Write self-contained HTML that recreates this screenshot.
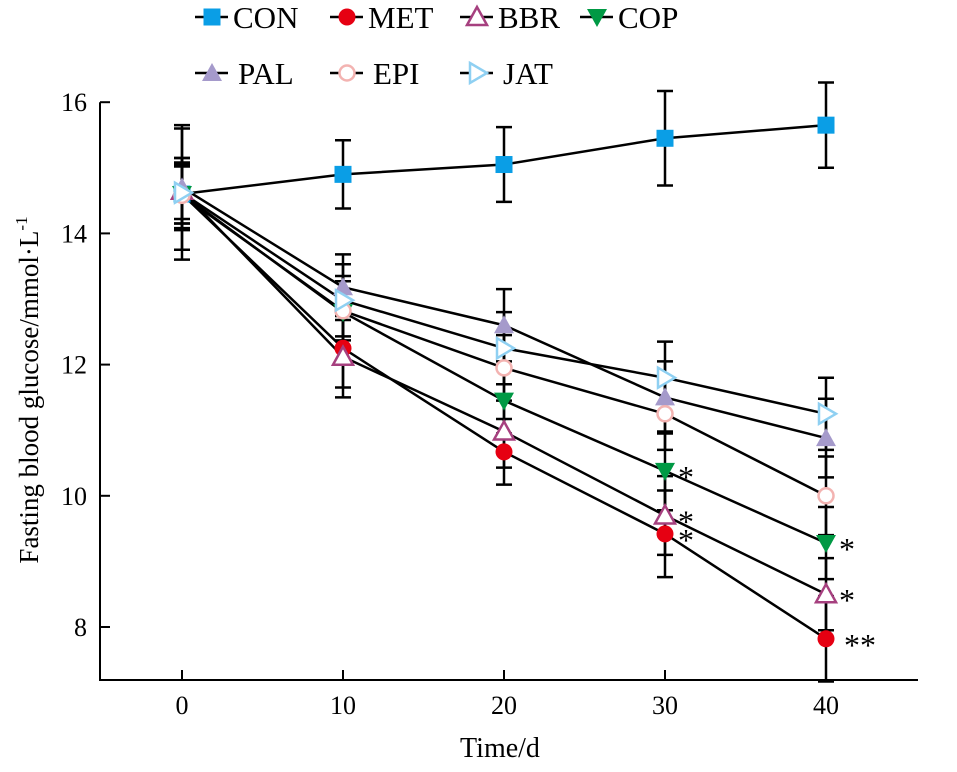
<!DOCTYPE html>
<html><head><meta charset="utf-8"><style>
html,body{margin:0;padding:0;background:#fff;}
svg{display:block;}
svg text{font-family:"Liberation Serif","Times New Roman",serif;}
</style></head><body>
<svg id="chart" width="957" height="772" xmlns="http://www.w3.org/2000/svg">
<g id="axes"></g><g id="series"></g><g id="legend"></g>
<text x="500" y="757" font-size="28" text-anchor="middle" font-family="Liberation Serif, serif">Time/d</text>
<text transform="translate(38,390) rotate(-90)" font-size="27" text-anchor="middle" font-family="Liberation Serif, serif">Fasting blood glucose/mmol·L<tspan dy="-11" font-size="17">-1</tspan></text>
</svg>
<script>
const days=[0,10,20,30,40];
const yTicks=[8,10,12,14,16];
const seriesNames=["CON","MET","BBR","COP","PAL","EPI","JAT"];
const CON=[14.6,14.9,15.05,15.45,15.65];
const MET=[14.6,12.25,10.67,9.42,7.82];
const BBR=[14.65,12.12,10.98,9.7,8.5];
const COP=[14.6,12.8,11.45,10.38,9.28];
const PAL=[14.7,13.18,12.6,11.5,10.88];
const EPI=[14.58,12.82,11.95,11.25,10.0];
const JAT=[14.62,12.98,12.25,11.8,11.25];
const CON_err=[1.0,0.52,0.57,0.72,0.65];
const MET_err=[0.55,0.6,0.5,0.66,0.65];
const BBR_err=[0.5,0.62,0.55,0.6,0.55];
const COP_err=[0.45,0.55,0.5,0.6,0.55];
const PAL_err=[0.95,0.5,0.55,0.55,0.6];
const EPI_err=[0.5,0.45,0.5,0.55,0.6];
const JAT_err=[0.4,0.55,0.55,0.55,0.55];
const MET_sig=["","","","*","**"];
const BBR_sig=["","","","*","*"];
const COP_sig=["","","","*","*"];
const vals={CON,MET,BBR,COP,PAL,EPI,JAT};
const errs={CON:CON_err,MET:MET_err,BBR:BBR_err,COP:COP_err,PAL:PAL_err,EPI:EPI_err,JAT:JAT_err};
const sigs={MET:MET_sig,BBR:BBR_sig,COP:COP_sig};
const sty={CON:["sq","#0a9ee6",true],MET:["ci","#e60012",true],BBR:["tu","#a6407f",false],COP:["td","#009944",true],PAL:["tu","#a59acb",true],EPI:["ci","#f3b3b1",false],JAT:["tr","#8fd0f2",false]};
const NS="http://www.w3.org/2000/svg";
const X=d=>182+d*16.1;
const Y=v=>627-(v-8)*65.6;
function mk(tag,at,par){const e=document.createElementNS(NS,tag);for(const k in at)e.setAttribute(k,at[k]);par.appendChild(e);return e;}
const FF="Liberation Serif, serif";
const ax=document.getElementById('axes');
let e=mk('path',{d:`M100 ${Y(16)} V680 H918`,stroke:'#000','stroke-width':2,fill:'none'},ax);


yTicks.forEach(v=>{
 let t=mk('line',{x1:100,x2:110,y1:Y(v),y2:Y(v),stroke:'#000','stroke-width':2},ax);
 
 
 let l=mk('text',{x:87,y:Y(v)+9,'font-size':26,'text-anchor':'end','font-family':FF},ax);l.textContent=v;
 
 
});
days.forEach(d=>{
 let t=mk('line',{x1:X(d),x2:X(d),y1:670,y2:680,stroke:'#000','stroke-width':2},ax);
 
 
 let l=mk('text',{x:X(d),y:714,'font-size':26,'text-anchor':'middle','font-family':FF},ax);l.textContent=d;
 
 
});
function marker(type,col,fill,x,y,par){
 const f=fill?col:'#fff',sw=fill?0:2.5,s=10;
 let m;
 if(type==='sq')m=mk('rect',{x:x-8.5,y:y-8.5,width:17,height:17,fill:f},par);
 else if(type==='ci')m=mk('circle',{cx:x,cy:y,r:fill?8.5:7.5,fill:f,stroke:col,'stroke-width':sw},par);
 else {let p;
  if(type==='tu')p=`${x},${y-s} ${x+s},${y+s*0.8} ${x-s},${y+s*0.8}`;
  else if(type==='td')p=`${x-s},${y-s*0.8} ${x+s},${y-s*0.8} ${x},${y+s}`;
  else p=`${x-s*0.7},${y-s} ${x+s},${y} ${x-s*0.7},${y+s}`;
  m=mk('polygon',{points:p,fill:f,stroke:col,'stroke-width':sw,'stroke-linejoin':'miter'},par);}
 return m;
}
const sg=document.getElementById('series');
seriesNames.forEach(n=>{
 const g=mk('g',{},sg);
 
 
 vals[n].forEach((v,i)=>{
  let b=mk('path',{d:`M${X(days[i])} ${Y(v+errs[n][i])} V${Y(v-errs[n][i])} M${X(days[i])-8} ${Y(v+errs[n][i])} h16 M${X(days[i])-8} ${Y(v-errs[n][i])} h16`,stroke:'#000','stroke-width':2.5,fill:'none'},g);
  
  
 });
 let ln=mk('polyline',{points:vals[n].map((v,i)=>X(days[i])+','+Y(v)).join(' '),stroke:'#000','stroke-width':2.5,fill:'none'},g);
 
 
});
seriesNames.forEach(n=>{
 const [t,c,f]=sty[n];
 vals[n].forEach((v,i)=>{
  let m=marker(t,c,f,X(days[i]),Y(v),sg);
  
  
  if(sigs[n]&&sigs[n][i]){
   let s=mk('text',{x:X(days[i])+(sigs[n][i]==='**'?18:13),y:Y(v)+17,'font-size':32,'font-family':FF},sg);s.textContent=sigs[n][i];
   
   
  }
 });
});
const lg=document.getElementById('legend');
const legPos=[[195,17],[330,17],[460,17],[580,17],[195,73],[330,73],[460,73]];
seriesNames.forEach((n,i)=>{
 const [x,y]=legPos[i];const [t,c,f]=sty[n];
 const g=mk('g',{},lg);
 
 
 mk('line',{x1:x,x2:x+33,y1:y,y2:y,stroke:'#000','stroke-width':2.5},g);
 marker(t,c,f,x+17,y,g);
 let tx=mk('text',{x:x+(i>=4?43:38),y:y+11,'font-size':31,'font-family':FF},g);tx.textContent=n;
});
</script>
</body></html>
